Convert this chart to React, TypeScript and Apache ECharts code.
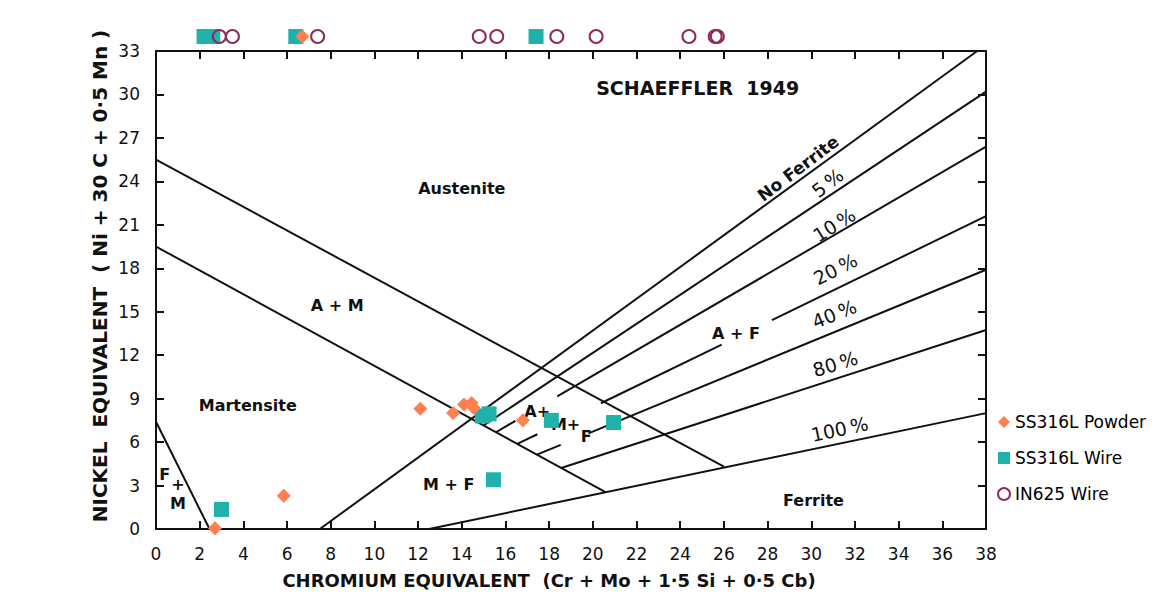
import React, { useEffect, useRef } from "react";
import * as echarts from "echarts";

// ---- Schaeffler (1949) phase boundaries: [Cr equivalent, Ni equivalent]
const austeniteLine = [[0, 25.5], [26.0, 4.3]];
const martensiteLine = [[0, 19.5], [20.6, 2.53]];
const ferriteMartensiteLine = [[0, 7.4], [2.45, 0]];
const noFerriteLine = [[7.5, 0], [37.6, 33]];
const ferrite5Line = [[15.0, 7.15], [38, 30.2]];
const ferrite10SegA = [[15.56, 6.68], [16.46, 7.47]];
const ferrite10SegB = [[18.37, 9.15], [38, 26.4]];
const ferrite20SegA = [[16.54, 5.87], [17.46, 6.54]];
const ferrite20SegB = [[20.37, 8.68], [25.9, 12.73]];
const ferrite20SegC = [[28.2, 14.42], [38, 21.6]];
const ferrite40SegA = [[17.44, 5.13], [18.53, 5.81]];
const ferrite40SegB = [[19.8, 6.6], [38, 17.9]];
const ferrite80Line = [[18.55, 4.21], [38, 13.74]];
const ferrite100Line = [[12.5, 0], [38, 8]];

// ---- Measured points (34 = off the top of the diagram)
const powderCr = [2.7, 5.85, 12.1, 13.6, 14.1, 14.45, 14.55, 16.8, 6.7];
const powderNi = [0.05, 2.3, 8.3, 8.0, 8.6, 8.7, 8.35, 7.5, 34];
const wireCr = [3.0, 14.95, 15.25, 18.1, 20.95, 15.45, 2.2, 2.6, 6.4, 17.4];
const wireNi = [1.35, 7.8, 7.95, 7.5, 7.35, 3.4, 34, 34, 34, 34];
const in625Cr = [2.9, 3.5, 7.4, 14.8, 15.6, 18.35, 20.15, 24.4, 25.6, 25.7];
const in625Ni = [34, 34, 34, 34, 34, 34, 34, 34, 34, 34];

// ---- Region labels: [text, Cr, Ni]
const regionLabels: [string, number, number][] = [
  ["SCHAEFFLER  1949", 24.8, 30.45],
  ["Austenite", 14.0, 23.5],
  ["A + M", 8.3, 15.4],
  ["Martensite", 4.2, 8.55],
  ["F", 0.4, 3.75],
  ["+", 1.0, 3.1],
  ["M", 1.0, 1.75],
  ["M + F", 13.4, 3.05],
  ["A+", 17.45, 8.1],
  ["M+", 18.75, 7.2],
  ["F", 19.7, 6.4],
  ["A + F", 26.55, 13.5],
  ["Ferrite", 30.1, 2.0],
];
// ---- Line labels: [text, Cr, Ni, rotation in degrees]
const lineLabels: [string, number, number, number][] = [
  ["No Ferrite", 29.4, 24.9, 37],
  ["5\u2009%", 30.75, 23.9, 38],
  ["10\u2009%", 31.05, 21.0, 32],
  ["20\u2009%", 31.1, 17.95, 27],
  ["40\u2009%", 31.05, 14.85, 22],
  ["80\u2009%", 31.1, 11.4, 17],
  ["100\u2009%", 31.3, 6.9, 12],
];

const seriesNames = ["SS316L Powder", "SS316L Wire", "IN625 Wire"];
const INK = "#111111";
const FONT = "DejaVu Sans";

function zip(a: number[], b: number[]) {
  return a.map((v, i) => [v, b[i]]);
}

export default function App() {
  const ref = useRef<HTMLDivElement>(null);
  useEffect(() => {
    if (!ref.current) return;
    const chart = echarts.init(ref.current, undefined, { renderer: "svg" });

    const boundaryLines = [
      austeniteLine, martensiteLine, ferriteMartensiteLine, noFerriteLine,
      ferrite5Line, ferrite10SegA, ferrite10SegB, ferrite20SegA, ferrite20SegB,
      ferrite20SegC, ferrite40SegA, ferrite40SegB, ferrite80Line, ferrite100Line,
    ].map((seg) => ({
      type: "line",
      data: seg,
      symbol: "none",
      silent: true,
      lineStyle: { color: INK, width: 2 },
      z: 2,
    }));

    const textLabel = (t: string, x: number, y: number, r: number, size: number, weight: string) => ({
      value: [x, y],
      label: {
        show: true,
        position: "inside",
        formatter: t,
        rotate: r,
        color: INK,
        opacity: 1,
        textBorderWidth: 0,
        fontFamily: FONT,
        fontWeight: weight,
        fontSize: size,
      },
    });

    const labelSeries = {
      type: "scatter",
      silent: true,
      symbolSize: 1,
      itemStyle: { color: "rgba(0,0,0,0)", opacity: 1 },
      z: 3,
      data: [
        ...regionLabels.map(([t, x, y]) =>
          textLabel(t, x, y, 0, t.startsWith("SCHAEFFLER") ? 19 : 16, "bold")
        ),
        ...lineLabels.map(([t, x, y, r]) =>
          textLabel(t, x, y, r, t.startsWith("No") ? 17 : 19, t.startsWith("No") ? "bold" : "500")
        ),
      ],
    };

    const axisCommon = {
      type: "value",
      axisLine: { show: true, onZero: false, lineStyle: { color: INK, width: 2 } },
      axisTick: { show: true, inside: true, length: 8, lineStyle: { color: INK, width: 2 } },
      splitLine: { show: false },
    };

    chart.setOption({
      animation: false,
      backgroundColor: "#ffffff",
      grid: { left: 156, right: 190, top: 51, bottom: 76 },
      xAxis: [
        {
          ...axisCommon,
          min: 0, max: 38, interval: 2, position: "bottom",
          axisLabel: { fontSize: 17, color: INK, fontFamily: FONT, margin: 16 },
        },
        {
          ...axisCommon,
          min: 0, max: 38, interval: 2, position: "top",
          axisLabel: { show: false },
        },
      ],
      yAxis: [
        {
          ...axisCommon,
          min: 0, max: 33, interval: 3, position: "left",
          axisLabel: { fontSize: 17, color: INK, fontFamily: FONT, margin: 16 },
        },
        {
          ...axisCommon,
          min: 0, max: 33, interval: 3, position: "right",
          axisLabel: { show: false },
        },
      ],
      legend: {
        data: seriesNames,
        orient: "vertical",
        left: 992,
        top: 407,
        itemWidth: 12,
        itemHeight: 12,
        itemGap: 16,
        textStyle: { fontFamily: FONT, fontSize: 17, color: "#000", lineHeight: 20 },
      },
      graphic: [
        {
          type: "text",
          x: 549,
          y: 580,
          style: {
            text: "CHROMIUM EQUIVALENT  (Cr + Mo + 1·5 Si + 0·5 Cb)",
            fill: INK,
            font: `bold 18px "${FONT}"`,
            align: "center",
            verticalAlign: "middle",
          },
        },
        {
          type: "text",
          x: 100,
          y: 276,
          rotation: Math.PI / 2,
          style: {
            text: "NICKEL  EQUIVALENT  ( Ni + 30 C + 0·5 Mn )",
            fill: INK,
            font: `bold 20px "${FONT}"`,
            align: "center",
            verticalAlign: "middle",
          },
        },
      ],
      series: [
        ...boundaryLines,
        labelSeries,
        {
          name: seriesNames[1],
          type: "scatter",
          symbol: "rect",
          symbolSize: 15,
          clip: false,
          itemStyle: { color: "#20B2AA", opacity: 1 },
          data: zip(wireCr, wireNi),
          z: 5,
        },
        {
          name: seriesNames[0],
          type: "scatter",
          symbol: "diamond",
          symbolSize: 14,
          clip: false,
          itemStyle: { color: "#FF7F50", opacity: 1 },
          data: zip(powderCr, powderNi),
          z: 6,
        },
        {
          name: seriesNames[2],
          type: "scatter",
          symbol: "circle",
          symbolSize: 13,
          clip: false,
          itemStyle: { color: "rgba(255,255,255,0)", borderColor: "#8E2B5E", borderWidth: 2, opacity: 1 },
          data: zip(in625Cr, in625Ni),
          z: 7,
        },
      ],
    });
    return () => chart.dispose();
  }, []);
  return <div ref={ref} style={{ width: 1176, height: 605, margin: -8 }} />;
}
